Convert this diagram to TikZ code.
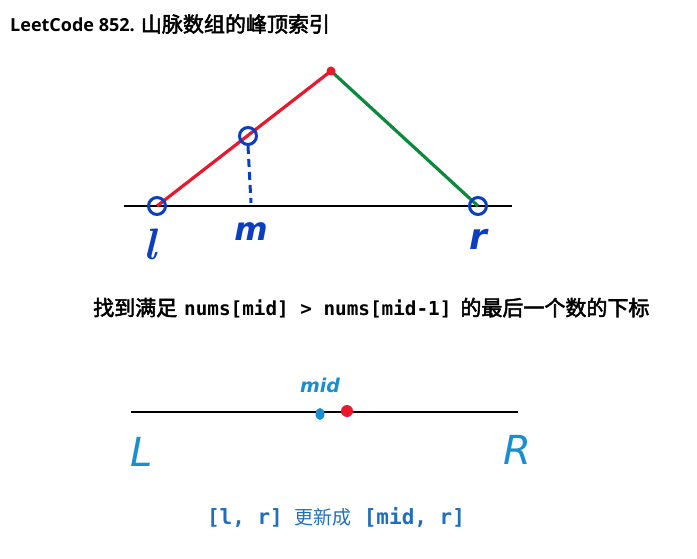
\documentclass[tikz,border=0pt]{standalone}
\usepackage{fontspec}
\setmainfont{Open Sans}
\setmonofont{DejaVu Sans Mono}
\newfontfamily\cjk[AutoFakeBold=2.5]{Noto Sans CJK SC}
\newfontfamily\cjkn{Noto Sans CJK SC}
\newfontfamily\hand{DejaVu Sans}
\newfontfamily\lmr{Latin Modern Roman}
\definecolor{myred}{HTML}{E8192C}
\definecolor{mygreen}{HTML}{0A8A3A}
\definecolor{myblue}{HTML}{0C3EC0}
\definecolor{lblue}{HTML}{1A8FD0}
\definecolor{tblue}{HTML}{1F6FBF}
\tikzset{
  pt/.style={circle,draw=myblue,line width=3pt,minimum size=17pt,inner sep=0pt},
  hlabel/.style={text=myblue,inner sep=0pt},
  llabel/.style={text=lblue,font=\hand\itshape\fontsize{40}{40}\selectfont,inner sep=0pt},
  axis/.style={line width=1.6pt,black}
}
\begin{document}
\begin{tikzpicture}[x=1pt,y=-1pt]
\useasboundingbox (0,0) rectangle (697,559);
% title
\node[anchor=west,inner sep=0pt,font=\bfseries\fontsize{18}{18}\selectfont] (title) at (10,24) {LeetCode 852. {\cjk\bfseries\fontsize{21}{21}\selectfont 山脉数组的峰顶索引}};
% top diagram
\coordinate (a0) at (124,206);
\coordinate (a1) at (512,206);
\draw[axis] (a0) -- (a1);
\coordinate (l) at (157,206);
\coordinate (peak) at (331,71);
\coordinate (r) at (478,206);
\coordinate (mbot) at (251,203);
\draw[myred,line width=3.2pt] (l) -- (peak);
\draw[mygreen,line width=3.2pt] (peak) -- (r);
\fill[myred] (peak) circle (4.5pt);
\node[pt] (nl) at (l) {};
\node[pt] (nm) at (248,136) {};
\node[pt] (nr) at (r) {};
\draw[myblue,line width=3pt,dash pattern=on 8pt off 5pt] (nm.south) -- (mbot);
\node[hlabel,font=\lmr\itshape\bfseries\fontsize{44}{44}\selectfont] (tl) at (150,244) {l};
\node[hlabel,font=\hand\itshape\bfseries\fontsize{32}{32}\selectfont] (tm) at (251,232) {m};
\node[hlabel,font=\hand\itshape\bfseries\fontsize{36}{36}\selectfont] (tr) at (478,239) {r};
% middle text
\node[anchor=west,inner sep=0pt] (mid) at (93,308) {{\cjk\bfseries\fontsize{21}{21}\selectfont 找到满足}\hspace{7pt}{\ttfamily\bfseries\fontsize{19.3}{19.3}\selectfont nums[mid] > nums[mid-1]}\hspace{9pt}{\cjk\bfseries\fontsize{21}{21}\selectfont 的最后一个数的下标}};
% bottom diagram
\coordinate (b0) at (131,412);
\coordinate (b1) at (518,412);
\draw[axis] (b0) -- (b1);
\fill[lblue] (320,414) ellipse (4.5pt and 6pt);
\node[circle,fill=myred,minimum size=12pt,inner sep=0pt] (rd) at (347,411) {};
\node[text=lblue,font=\hand\itshape\bfseries\fontsize{19}{19}\selectfont,inner sep=0pt] (tmid) at (320,385) {mid};
\node[llabel] (tL) at (142,452) {L};
\node[llabel] (tR) at (517,450) {R};
\node[inner sep=0pt,text=tblue] (bt) at (336,517) {{\ttfamily\bfseries\fontsize{21}{21}\selectfont [l, r]}\hspace{12pt}{\cjkn\fontsize{19}{19}\selectfont 更新成}\hspace{12pt}{\ttfamily\bfseries\fontsize{21}{21}\selectfont [mid, r]}};
\end{tikzpicture}
\end{document}
